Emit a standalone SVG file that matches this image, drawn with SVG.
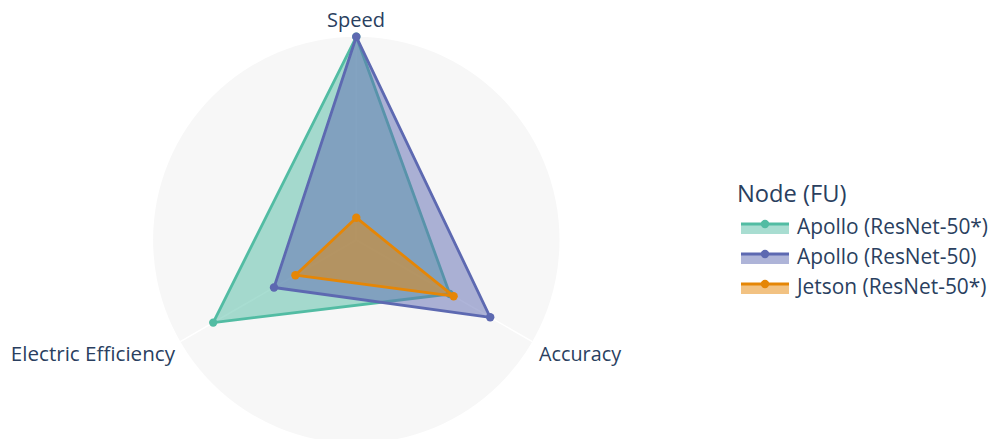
<svg xmlns="http://www.w3.org/2000/svg" width="993" height="439" viewBox="0 0 993 439">
<style>
text{font-family:"Open Sans","Liberation Sans",sans-serif;fill:#2a3f5f}
.ax{font-size:20px}
.lg{font-size:20.9px}
.grid{stroke:#fff;stroke-width:1.4;fill:none}
.tr{stroke-width:2.8;stroke-linejoin:round;fill-opacity:0.5}
.g{stroke:#52bca3;fill:#52bca3}
.b{stroke:#5d69b1;fill:#5d69b1}
.o{stroke:#e58606;fill:#e58606}
.mk{stroke:none}
</style>
<rect width="993" height="439" fill="#fff"/>
<g id="polar">
<circle cx="356.3" cy="240" r="203.2" fill="#f7f7f7"/>
<g class="grid">
<line x1="356.3" y1="240" x2="356.3" y2="36.8"/>
<line x1="356.3" y1="240" x2="532.3" y2="341.6"/>
<line x1="356.3" y1="240" x2="180.3" y2="341.6"/>
</g>
</g>
<g id="connectors">
<g id="apollo-resnet50star">
<polygon class="tr g" points="356.3,36.8 449.8,294 213.2,322.6"/>
<g class="mk" fill="#52bca3"><circle cx="356.3" cy="36.8" r="4.2"/><circle cx="449.8" cy="294" r="4.2"/><circle cx="213.2" cy="322.6" r="4.2"/></g>
</g>
<g id="apollo-resnet50">
<polygon class="tr b" points="356.3,36.8 490.2,317.3 274,287.5"/>
<g class="mk" fill="#5d69b1"><circle cx="356.3" cy="36.8" r="4.2"/><circle cx="490.2" cy="317.3" r="4.2"/><circle cx="274" cy="287.5" r="4.2"/></g>
</g>
<g id="jetson-resnet50star">
<polygon class="tr o" points="356.3,217.7 453.6,296.2 295.4,275.2"/>
<g class="mk" fill="#e58606"><circle cx="356.3" cy="217.7" r="4.2"/><circle cx="453.6" cy="296.2" r="4.2"/><circle cx="295.4" cy="275.2" r="4.2"/></g>
</g>
</g>
<g id="axis-labels">
<text id="lbl-speed" class="ax" x="356" y="27.3" text-anchor="middle">Speed</text>
<text id="lbl-acc" class="ax" x="539" y="361" style="font-size:19.8px">Accuracy</text>
<text id="lbl-ee" class="ax" x="175" y="360.7" text-anchor="end" style="font-size:20.6px">Electric Efficiency</text>
</g>
<g id="legend">
<text x="737" y="201.7" style="font-size:23.7px">Node (FU)</text>
<g id="leg-1">
<rect x="741" y="224" width="48" height="10" fill="#52bca3" fill-opacity="0.5"/>
<line x1="741" y1="224" x2="789" y2="224" stroke="#52bca3" stroke-width="2.8"/>
<circle cx="765" cy="224" r="4.2" fill="#52bca3"/>
<text class="lg" x="797" y="233.5">Apollo (ResNet-50*)</text>
</g>
<g id="leg-2">
<rect x="741" y="254" width="48" height="10" fill="#5d69b1" fill-opacity="0.5"/>
<line x1="741" y1="254" x2="789" y2="254" stroke="#5d69b1" stroke-width="2.8"/>
<circle cx="765" cy="254" r="4.2" fill="#5d69b1"/>
<text class="lg" x="797" y="263.5">Apollo (ResNet-50)</text>
</g>
<g id="leg-3">
<rect x="741" y="284" width="48" height="10" fill="#e58606" fill-opacity="0.5"/>
<line x1="741" y1="284" x2="789" y2="284" stroke="#e58606" stroke-width="2.8"/>
<circle cx="765" cy="284" r="4.2" fill="#e58606"/>
<text class="lg" x="797" y="293.5">Jetson (ResNet-50*)</text>
</g>
</g>
</svg>
